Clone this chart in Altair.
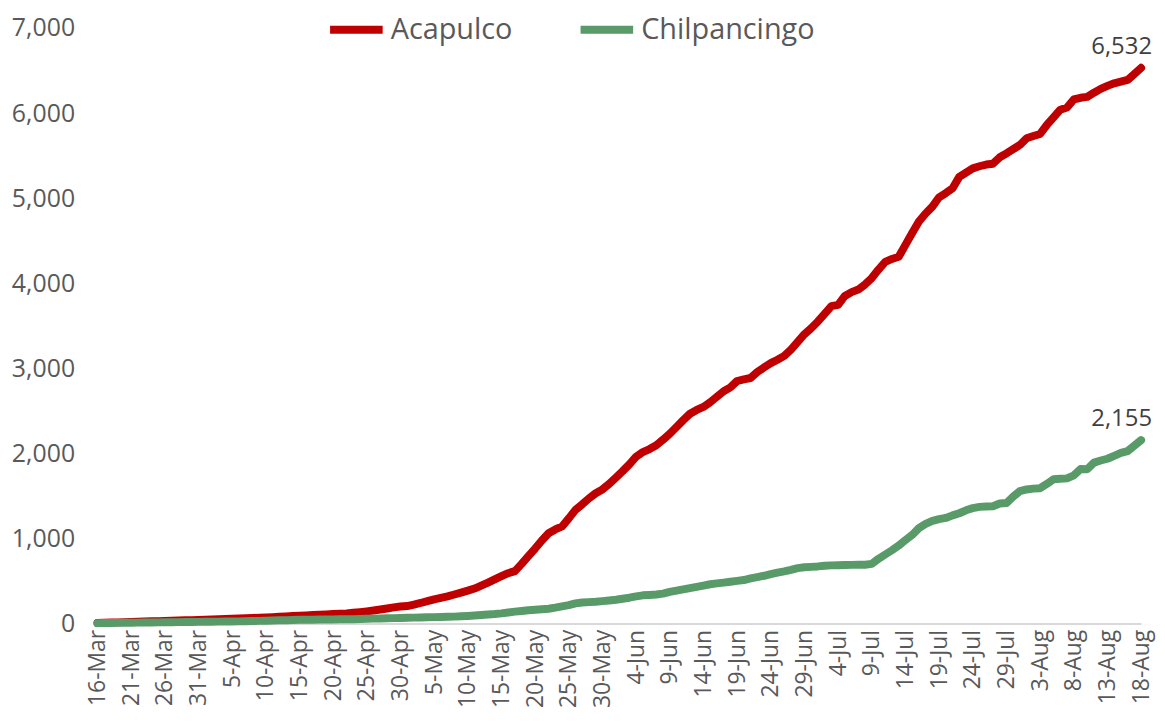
import altair as alt
import pandas as pd

start_date = "2020-03-16"
end_date = "2020-08-18"

acapulco = [
    5, 8, 10, 12, 15, 17, 20, 22, 25, 27,
    30, 32, 34, 36, 38, 40, 43, 46, 49, 52,
    55, 58, 61, 64, 67, 70, 74, 78, 82, 86,
    90, 94, 98, 102, 106, 110, 113, 116, 125, 133,
    142, 152, 163, 175, 188, 198, 204, 222, 240, 262,
    283, 300, 318, 340, 362, 385, 410, 445, 480, 518,
    555, 590, 615, 700, 790, 880, 975, 1060, 1105, 1140,
    1235, 1335, 1400, 1470, 1530, 1575, 1640, 1715, 1790, 1870,
    1960, 2015, 2050, 2095, 2160, 2230, 2310, 2390, 2465, 2510,
    2545, 2600, 2665, 2730, 2775, 2850, 2870, 2885, 2955, 3010,
    3060, 3100, 3145, 3220, 3310, 3400, 3470, 3550, 3640, 3730,
    3745, 3850, 3895, 3925, 3985, 4060, 4160, 4250, 4285, 4310,
    4450, 4590, 4725, 4820, 4900, 5010, 5060, 5115, 5250, 5300,
    5350, 5375, 5395, 5405, 5480, 5525, 5575, 5625, 5705, 5730,
    5755, 5860, 5950, 6040, 6065, 6160, 6180, 6190, 6240, 6285,
    6320, 6350, 6370, 6390, 6460, 6532,
]

chilpancingo = [
    3, 4, 5, 6, 7, 8, 9, 10, 11, 12,
    13, 14, 15, 16, 17, 18, 19, 20, 21, 22,
    23, 24, 26, 28, 30, 32, 34, 36, 38, 40,
    42, 43, 44, 45, 46, 47, 48, 49, 50, 52,
    54, 56, 58, 60, 62, 64, 66, 68, 70, 72,
    74, 76, 78, 80, 83, 87, 92, 98, 104, 110,
    118, 128, 138, 146, 154, 160, 166, 172, 185, 200,
    215, 235, 245, 250, 255, 262, 270, 278, 290, 302,
    318, 330, 335, 340, 350, 370, 385, 400, 415, 430,
    445, 460, 470, 480, 490, 500, 510, 530, 545, 560,
    580, 598, 612, 630, 650, 660, 665, 670, 678, 682,
    684, 686, 688, 689, 690, 700, 760, 810, 860, 915,
    980, 1040, 1120, 1170, 1205, 1225, 1240, 1270, 1295, 1330,
    1355, 1370, 1375, 1378, 1410, 1415, 1490, 1555, 1575, 1585,
    1590, 1640, 1695, 1700, 1705, 1740, 1815, 1812, 1890, 1915,
    1936, 1970, 2005, 2025, 2090, 2155,
]

series_names = ["Acapulco", "Chilpancingo"]
series_colors = ["#C00000", "#589A68"]
y_ticks = [0, 1000, 2000, 3000, 4000, 5000, 6000, 7000]

dates = pd.date_range(start_date, end_date, freq="D")
day_labels = [f"{d.day}-{d.strftime('%b')}" for d in dates]
tick_labels = day_labels[::5]

rows = []
for i, lab in enumerate(day_labels):
    rows.append({"day": lab, "idx": i, "series": "Acapulco", "value": acapulco[i]})
for i, lab in enumerate(day_labels):
    rows.append({"day": lab, "idx": i, "series": "Chilpancingo", "value": chilpancingo[i]})
df = pd.DataFrame(rows)
last = df[df["idx"] == len(day_labels) - 1]

FONT = "Open Sans"
GREY = "#595959"

x_enc = alt.X(
    "day:O",
    sort=day_labels,
    scale=alt.Scale(type="point", padding=0),
    axis=alt.Axis(
        values=tick_labels,
        labelAngle=-90,
        labelFontSize=23,
        labelColor=GREY,
        labelFont=FONT,
        labelPadding=6,
        ticks=False,
        domainColor="#D9D9D9",
        domainWidth=2,
        grid=False,
        title=None,
        labelOverlap=False,
    ),
)
y_enc = alt.Y(
    "value:Q",
    scale=alt.Scale(domain=[0, 7000], nice=False),
    axis=alt.Axis(
        values=y_ticks,
        format=",d",
        labelFontSize=25,
        labelColor=GREY,
        labelFont=FONT,
        labelPadding=23,
        ticks=False,
        domain=False,
        grid=False,
        title=None,
    ),
)
color_enc = alt.Color(
    "series:N",
    scale=alt.Scale(domain=series_names, range=series_colors),
    legend=alt.Legend(
        orient="none",
        legendX=230,
        legendY=-29,
        direction="horizontal",
        title=None,
        symbolType="stroke",
        symbolSize=2800,
        symbolStrokeWidth=8,
        labelFontSize=29,
        labelFont=FONT,
        labelColor=GREY,
        labelOffset=4,
        labelLimit=500,
        columnPadding=52,
        padding=0,
    ),
)

lines = alt.Chart(df).mark_line(strokeWidth=8, strokeJoin="round", strokeCap="round").encode(
    x=x_enc, y=y_enc, color=color_enc
)

labels = alt.Chart(last).mark_text(
    align="right", baseline="middle", dx=11, dy=-21, fontSize=24, font=FONT, color="#404040"
).encode(
    x=alt.X("day:O", sort=day_labels),
    y=alt.Y("value:Q"),
    text=alt.Text("value:Q", format=",d"),
)

chart = alt.layer(lines, labels).properties(
    width=1050,
    height=599,
    background="white",
    autosize=alt.AutoSizeParams(type="none"),
    padding={"left": 90, "top": 18, "right": 16, "bottom": 90},
).configure_view(stroke=None)

chart.save("out.html", embed_options={"renderer": "svg", "actions": False})
